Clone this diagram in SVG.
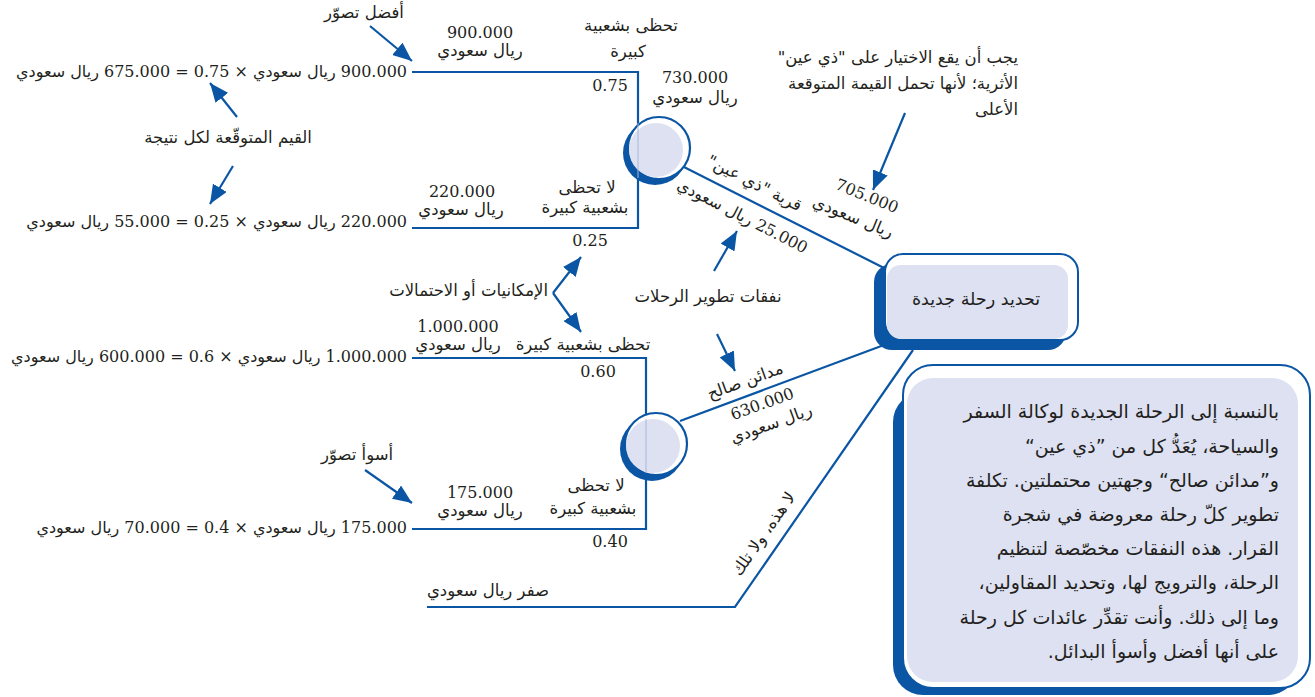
<svg xmlns="http://www.w3.org/2000/svg" width="1315" height="697" viewBox="0 0 1315 697">
<defs>
<style>
.ln{stroke:#0B56A4;stroke-width:2.2;fill:none}
.ar{stroke:#0B56A4;stroke-width:2.2;fill:none;marker-end:url(#ah)}
.t{font-family:'DejaVu Serif','DejaVu Sans',serif;font-size:16px;fill:#231f20;direction:rtl}
.a{font-family:'DejaVu Sans',sans-serif;font-size:16.5px;fill:#231f20;direction:rtl}
.b{font-family:'DejaVu Sans',sans-serif;font-size:19px;fill:#231f20;direction:rtl}
.c{text-anchor:middle}
.r{text-anchor:start}
.dk{fill:#0B56A4}
.lt{fill:#DDE1F1}
</style>
<marker id="ah" markerUnits="userSpaceOnUse" markerWidth="20" markerHeight="16" refX="19" refY="8" orient="auto">
<path d="M0,0 L19,8 L0,16 z" fill="#0B56A4"/>
</marker>
</defs>

<g id="connectors">
<polyline class="ln" points="412,72 638,72 638,228 412,228"/>
<polyline class="ln" points="412,358 646,358 646,529 412,529"/>
<line class="ln" x1="680" y1="165" x2="888" y2="270"/>
<line class="ln" x1="680" y1="421" x2="884" y2="345"/>
<polyline class="ln" points="427,607 735,607 913,350"/>
<line class="ar" x1="370" y1="26" x2="412" y2="61"/>
<line class="ar" x1="237" y1="117" x2="210" y2="83"/>
<line class="ar" x1="233" y1="166" x2="210" y2="204"/>
<line class="ar" x1="905" y1="113" x2="873" y2="190"/>
<line class="ar" x1="714" y1="271" x2="737" y2="231"/>
<line class="ar" x1="717" y1="334" x2="735" y2="371"/>
<line class="ar" x1="553" y1="293" x2="581" y2="257"/>
<line class="ar" x1="553" y1="293" x2="581" y2="332"/>
<line class="ar" x1="365" y1="470" x2="412" y2="503"/>
</g>

<g id="chance1">
<circle class="dk" cx="655" cy="153" r="32"/>
<circle cx="659" cy="148" r="31" fill="#fff" stroke="#0B56A4" stroke-width="2.2"/>
<circle class="lt" cx="656" cy="150" r="27"/>
<line x1="638" y1="123" x2="638" y2="178" stroke="#A9B8DC" stroke-width="1"/>
</g>
<g id="chance2">
<circle class="dk" cx="652" cy="449" r="32"/>
<circle cx="656" cy="444" r="31" fill="#fff" stroke="#0B56A4" stroke-width="2.2"/>
<circle class="lt" cx="653" cy="446" r="27"/>
<line x1="646" y1="419" x2="646" y2="473" stroke="#A9B8DC" stroke-width="1"/>
</g>

<g id="decision">
<rect class="dk" x="874" y="264" width="192" height="86" rx="18"/>
<rect x="885" y="254" width="193" height="86" rx="18" fill="#fff" stroke="#0B56A4" stroke-width="2"/>
<rect class="lt" x="887" y="265" width="181" height="74" rx="14"/>
<text class="a c" x="976" y="305" style="font-size:17.5px">تحديد رحلة جديدة</text>
</g>

<g id="infobox">
<rect class="dk" x="893" y="392" width="405" height="303" rx="30"/>
<rect x="903" y="365" width="407" height="323" rx="30" fill="#fff" stroke="#0B56A4" stroke-width="2"/>
<rect class="lt" x="907" y="378" width="391" height="304" rx="26"/>
<text class="b r" x="1279" y="418">بالنسبة إلى الرحلة الجديدة لوكالة السفر</text>
<text class="b r" x="1279" y="453">والسياحة، يُعَدُّ كل من ”ذي عين“</text>
<text class="b r" x="1279" y="487">و”مدائن صالح“ وجهتين محتملتين. تكلفة</text>
<text class="b r" x="1279" y="521">تطوير كلّ رحلة معروضة في شجرة</text>
<text class="b r" x="1279" y="555">القرار. هذه النفقات مخصّصة لتنظيم</text>
<text class="b r" x="1279" y="589">الرحلة، والترويج لها، وتحديد المقاولين،</text>
<text class="b r" x="1279" y="624">وما إلى ذلك. وأنت تقدِّر عائدات كل رحلة</text>
<text class="b r" x="1279" y="658">على أنها أفضل وأسوأ البدائل.</text>
</g>

<g id="labels">
<text class="a c" x="364" y="18">أفضل تصوّر</text>
<text class="t r" x="407" y="77">900.000 ريال سعودي × 0.75 = 675.000 ريال سعودي</text>
<text class="a c" x="228" y="143">القيم المتوقّعة لكل نتيجة</text>
<text class="t r" x="407" y="227">220.000 ريال سعودي × 0.25 = 55.000 ريال سعودي</text>
<text class="t r" x="407" y="362">1.000.000 ريال سعودي × 0.6 = 600.000 ريال سعودي</text>
<text class="a c" x="357" y="460">أسوأ تصوّر</text>
<text class="t r" x="407" y="533">175.000 ريال سعودي × 0.4 = 70.000 ريال سعودي</text>

<text class="t c" x="480" y="38">900.000</text>
<text class="a c" x="480" y="56">ريال سعودي</text>
<text class="a c" x="631" y="31">تحظى بشعبية</text>
<text class="a c" x="628" y="57">كبيرة</text>
<text class="t c" x="610" y="91">0.75</text>
<text class="t c" x="695" y="83">730.000</text>
<text class="a c" x="695" y="103">ريال سعودي</text>
<text class="a c" x="587" y="193">لا تحظى</text>
<text class="a c" x="585" y="213">بشعبية كبيرة</text>
<text class="t c" x="462" y="197">220.000</text>
<text class="a c" x="461" y="215">ريال سعودي</text>
<text class="t c" x="590" y="246">0.25</text>

<text class="a r" x="1018" y="63">يجب أن يقع الاختيار على "ذي عين"</text>
<text class="a r" x="1018" y="89">الأثرية؛ لأنها تحمل القيمة المتوقعة</text>
<text class="a r" x="1018" y="115">الأعلى</text>
<text class="t c" transform="translate(865,201) rotate(22)">705.000</text>
<text class="a c" transform="translate(851,222) rotate(22)">ريال سعودي</text>
<text class="a c" transform="translate(752,188) rotate(27)">قرية "ذي عين"</text>
<text class="t c" transform="translate(740,221) rotate(27)">25.000 ريال سعودي</text>

<text class="a c" x="708" y="302">نفقات تطوير الرحلات</text>
<text class="a r" x="548" y="296">الإمكانيات أو الاحتمالات</text>

<text class="t c" x="458" y="332">1.000.000</text>
<text class="a c" x="458" y="350">ريال سعودي</text>
<text class="a c" x="583" y="350">تحظى بشعبية كبيرة</text>
<text class="t c" x="598" y="377">0.60</text>
<text class="a c" x="596" y="491">لا تحظى</text>
<text class="a c" x="593" y="514">بشعبية كبيرة</text>
<text class="t c" x="480" y="498">175.000</text>
<text class="a c" x="480" y="516">ريال سعودي</text>
<text class="t c" x="610" y="547">0.40</text>
<text class="a c" x="488" y="596">صفر ريال سعودي</text>

<text class="a c" transform="translate(747,386) rotate(-20)">مدائن صالح</text>
<text class="t c" transform="translate(764,409) rotate(-20)">630.000</text>
<text class="a c" transform="translate(773,429) rotate(-20)">ريال سعودي</text>
<text class="a c" transform="translate(768,537) rotate(-55)">لا هذه، ولا تلك</text>
</g>
</svg>
